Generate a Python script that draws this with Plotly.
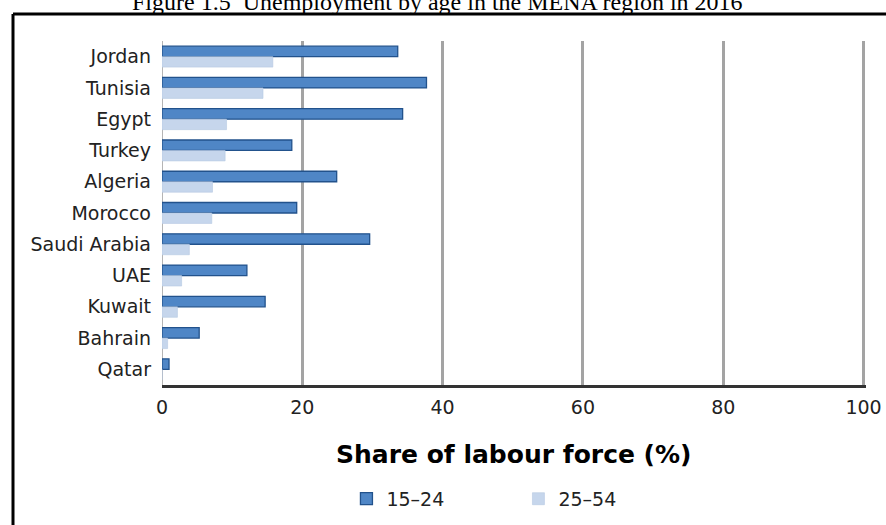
import plotly.graph_objects as go

countries = ["Jordan", "Tunisia", "Egypt", "Turkey", "Algeria", "Morocco",
             "Saudi Arabia", "UAE", "Kuwait", "Bahrain", "Qatar"]
youth_15_24 = [33.6, 37.7, 34.3, 18.5, 24.9, 19.2, 29.6, 12.1, 14.7, 5.3, 1.0]
adult_25_54 = [15.8, 14.4, 9.2, 9.0, 7.2, 7.1, 3.9, 2.8, 2.2, 0.8, 0.0]
x_ticks = [0, 20, 40, 60, 80, 100]

title_text = "Figure 1.5\u00a0\u00a0Unemployment by age in the MENA region in 2016"
axis_title = "Share of labour force (%)"

fig = go.Figure()
fig.add_trace(go.Bar(
    y=countries, x=youth_15_24, name="15\u201324", orientation="h",
    marker=dict(color="#4f86c6", line=dict(color="#22528c", width=1.3)),
))
fig.add_trace(go.Bar(
    y=countries, x=adult_25_54, name="25\u201354", orientation="h",
    marker=dict(color="#c6d6ec", line=dict(color="#b7c9e2", width=0.6)),
))

fig.update_layout(
    width=886, height=525,
    margin=dict(l=162, r=20, t=41, b=140, autoexpand=False),
    paper_bgcolor="white", plot_bgcolor="white",
    barmode="group", bargap=0.33, bargroupgap=0.0,
    font=dict(family="DejaVu Sans", color="black"),
    showlegend=True,
    legend=dict(orientation="h", x=0.262, xanchor="left", y=-0.331, yanchor="middle",
                font=dict(family="DejaVu Sans", size=19, color="#222"),
                entrywidth=127, entrywidthmode="pixels", itemclick=False),
    xaxis=dict(range=[0, 100.35], tickvals=x_ticks, showgrid=True, gridcolor="#a3a3a3",
               gridwidth=2.6, zeroline=True, zerolinecolor="#b5b5b5", zerolinewidth=1.2,
               showline=True, linecolor="#333333", linewidth=2.6, ticks="",
               automargin=False, ticklabelstandoff=3,
               tickfont=dict(family="DejaVu Sans", size=19, color="#222")),
    yaxis=dict(autorange="reversed", showgrid=False, showline=False, ticks="",
               automargin=False, ticklabelstandoff=10,
               tickfont=dict(family="DejaVu Sans", size=19, color="#222")),
    annotations=[
        dict(text=axis_title, xref="paper", yref="paper", x=0.5, y=-0.201,
             xanchor="center", yanchor="middle", showarrow=False,
             font=dict(family="DejaVu Sans", size=25, color="black", weight="bold")),
        dict(text=title_text, xref="paper", yref="paper",
             x=(437 - 162) / 704, y=1 + (41 - 2) / 344, xanchor="center", yanchor="middle",
             showarrow=False, font=dict(family="Liberation Serif", size=24, color="black")),
    ],
    shapes=[
        dict(type="line", xref="paper", yref="paper", x0=(13 - 162) / 704, x1=(900 - 162) / 704,
             y0=1 + (41 - 14) / 344, y1=1 + (41 - 14) / 344, line=dict(color="black", width=3)),
        dict(type="line", xref="paper", yref="paper", x0=(13 - 162) / 704, x1=(13 - 162) / 704,
             y0=1 + (41 - 14) / 344, y1=-(540 - 385) / 344, line=dict(color="black", width=3)),
    ],
)

fig.write_html("out.html")
